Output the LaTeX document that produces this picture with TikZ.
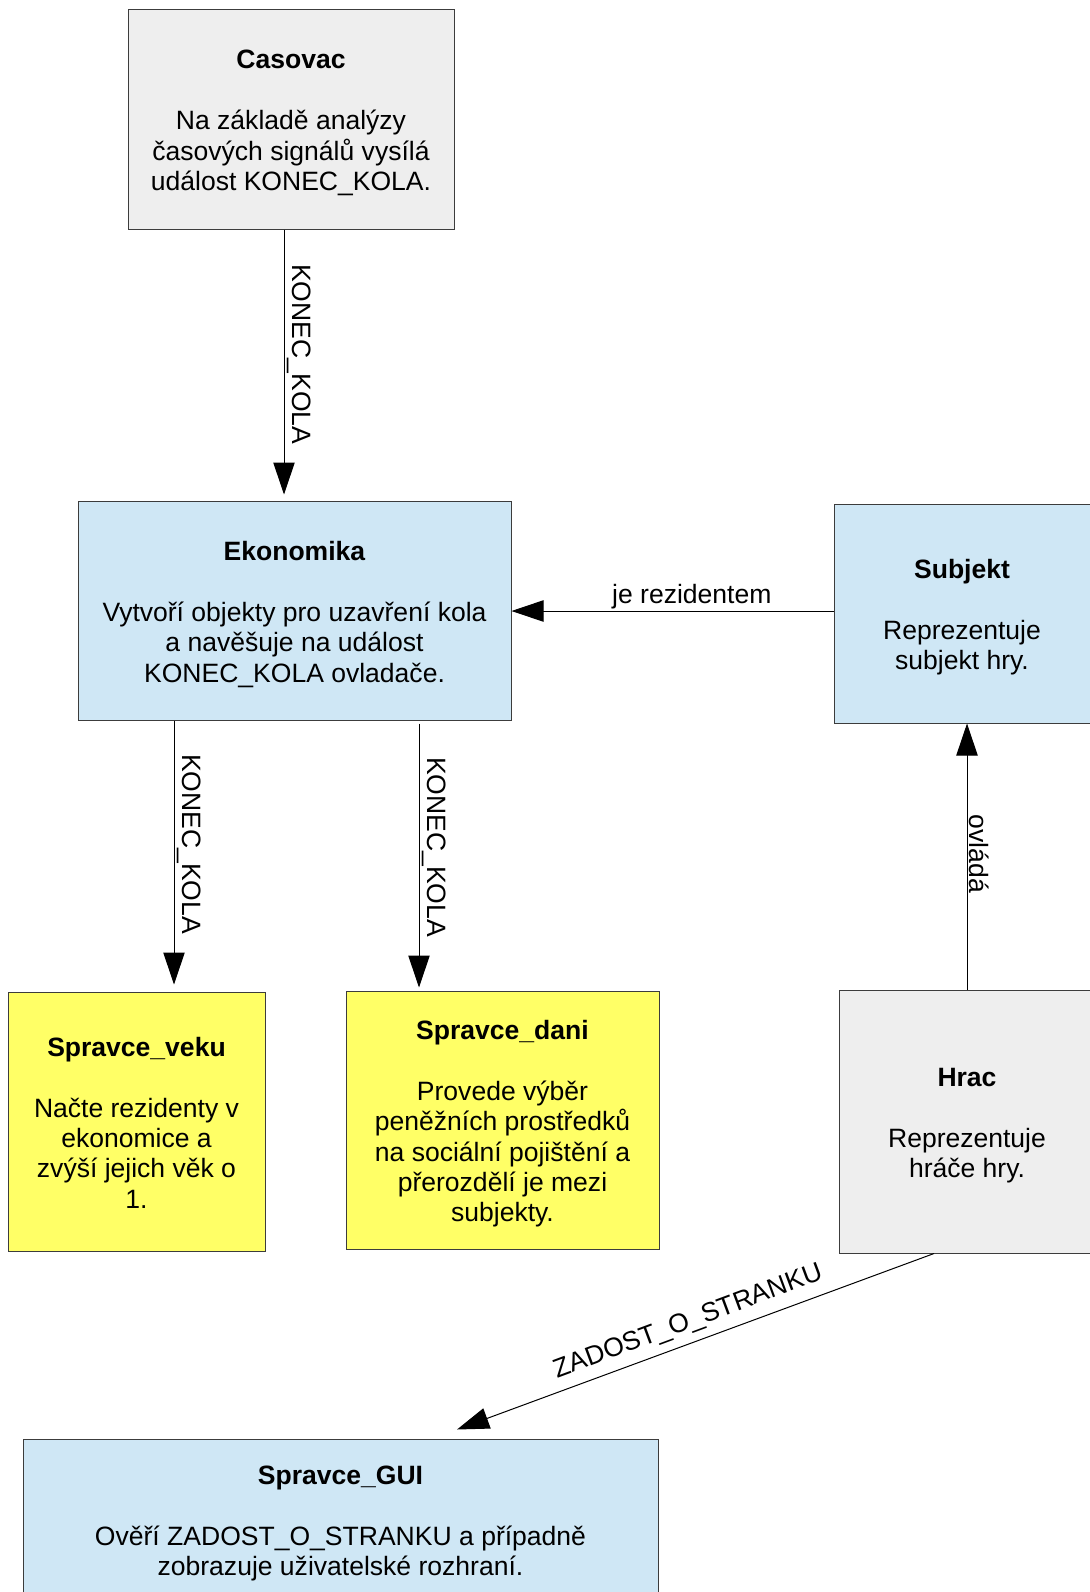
\documentclass[tikz,border=0pt]{standalone}
\usepackage{fontspec}
\setmainfont{Liberation Sans}
\usetikzlibrary{arrows.meta}
\definecolor{greyfill}{HTML}{EEEEEE}
\definecolor{bluefill}{HTML}{CFE7F5}
\definecolor{yellowfill}{HTML}{FFFF66}
\definecolor{boxline}{HTML}{3C3C3C}
\newcommand{\dfont}{\fontsize{19.9pt}{22.8pt}\selectfont}
\newcommand{\topstrut}{\rule{0pt}{20.25pt}}
\newcommand{\bottomstrut}{\rule[-4.2pt]{0pt}{1pt}}
\newcommand{\boxtext}[2]{\textbf{\topstrut#1}\\[22.8pt]#2\bottomstrut}
\tikzset{
  box/.style={draw=boxline,line width=0.75pt,align=center,inner sep=0pt,font=\dfont},
  greybox/.style={box,fill=greyfill},
  bluebox/.style={box,fill=bluefill},
  yellowbox/.style={box,fill=yellowfill},
  flow/.style={-{Triangle[length=24pt,width=16pt]},line width=0.75pt},
  lbl/.style={font=\dfont,inner sep=2pt},
}
\begin{document}
\begin{tikzpicture}[x=0.75pt,y=-0.75pt]
\useasboundingbox (0,0) rectangle (1089,1592);

\node[greybox,minimum width=244.5pt,minimum height=165pt] (casovac) at (291,119)
  {\boxtext{Casovac}{Na základě analýzy\\časových signálů vysílá\\událost KONEC\_KOLA.}};
\node[bluebox,minimum width=324.75pt,minimum height=164.25pt] (ekonomika) at (294.5,610.5)
  {\boxtext{Ekonomika}{Vytvoří objekty pro uzavření kola\\a navěšuje na událost\\KONEC\_KOLA ovladače.}};
\node[bluebox,minimum width=192pt,minimum height=164.25pt] (subjekt) at (962,613.5)
  {\boxtext{Subjekt}{Reprezentuje\\subjekt hry.}};
\node[greybox,minimum width=192pt,minimum height=197.25pt] (hrac) at (967,1121.5)
  {\boxtext{Hrac}{Reprezentuje\\hráče hry.}};
\node[yellowbox,minimum width=192.75pt,minimum height=194.25pt] (veku) at (136.5,1121.5)
  {\boxtext{Spravce\_veku}{Načte rezidenty v\\ekonomice a\\zvýší jejich věk o\\1.}};
\node[yellowbox,minimum width=234.75pt,minimum height=193.5pt] (dani) at (502.5,1120)
  {\boxtext{Spravce\_dani}{Provede výběr\\peněžních prostředků\\na sociální pojištění a\\přerozdělí je mezi\\subjekty.}};
\node[bluebox,minimum width=476.25pt,minimum height=120.75pt] (gui) at (340.5,1519.5)
  {\boxtext{Spravce\_GUI}{Ověří ZADOST\_O\_STRANKU a případně\\zobrazuje uživatelské rozhraní.}};
\coordinate (guitip) at ([yshift=6.75pt]457,0 |- gui.north);

% sipky
\draw[flow,shorten >=4.5pt] (284,0 |- casovac.south) -- (284,0 |- ekonomika.north)
  node[lbl,pos=0.46,rotate=-90,anchor=south] {KONEC\_KOLA};
\draw[flow,shorten >=5.25pt] (174,0 |- ekonomika.south) -- (174,0 |- veku.north)
  node[lbl,pos=0.456,rotate=-90,anchor=south] {KONEC\_KOLA};
\draw[flow,shorten <=2.25pt,shorten >=2.25pt] (419,0 |- ekonomika.south) -- (419,0 |- dani.north)
  node[lbl,pos=0.469,rotate=-90,anchor=south] {KONEC\_KOLA};
\draw[flow] (subjekt.west |- 0,611) -- (ekonomika.east |- 0,611)
  node[lbl,pos=0.44,anchor=south,inner sep=1.5pt] {je rezidentem};
\draw[flow] (967,0 |- hrac.north) -- (967,0 |- subjekt.south)
  node[lbl,pos=0.51,rotate=-90,anchor=south,inner sep=1pt] {ovládá};
\draw[flow] (934,0 |- hrac.south) -- (guitip)
  node[lbl,midway,rotate=20.4,anchor=south,inner sep=6pt] {ZADOST\_O\_STRANKU};
\end{tikzpicture}
\end{document}
